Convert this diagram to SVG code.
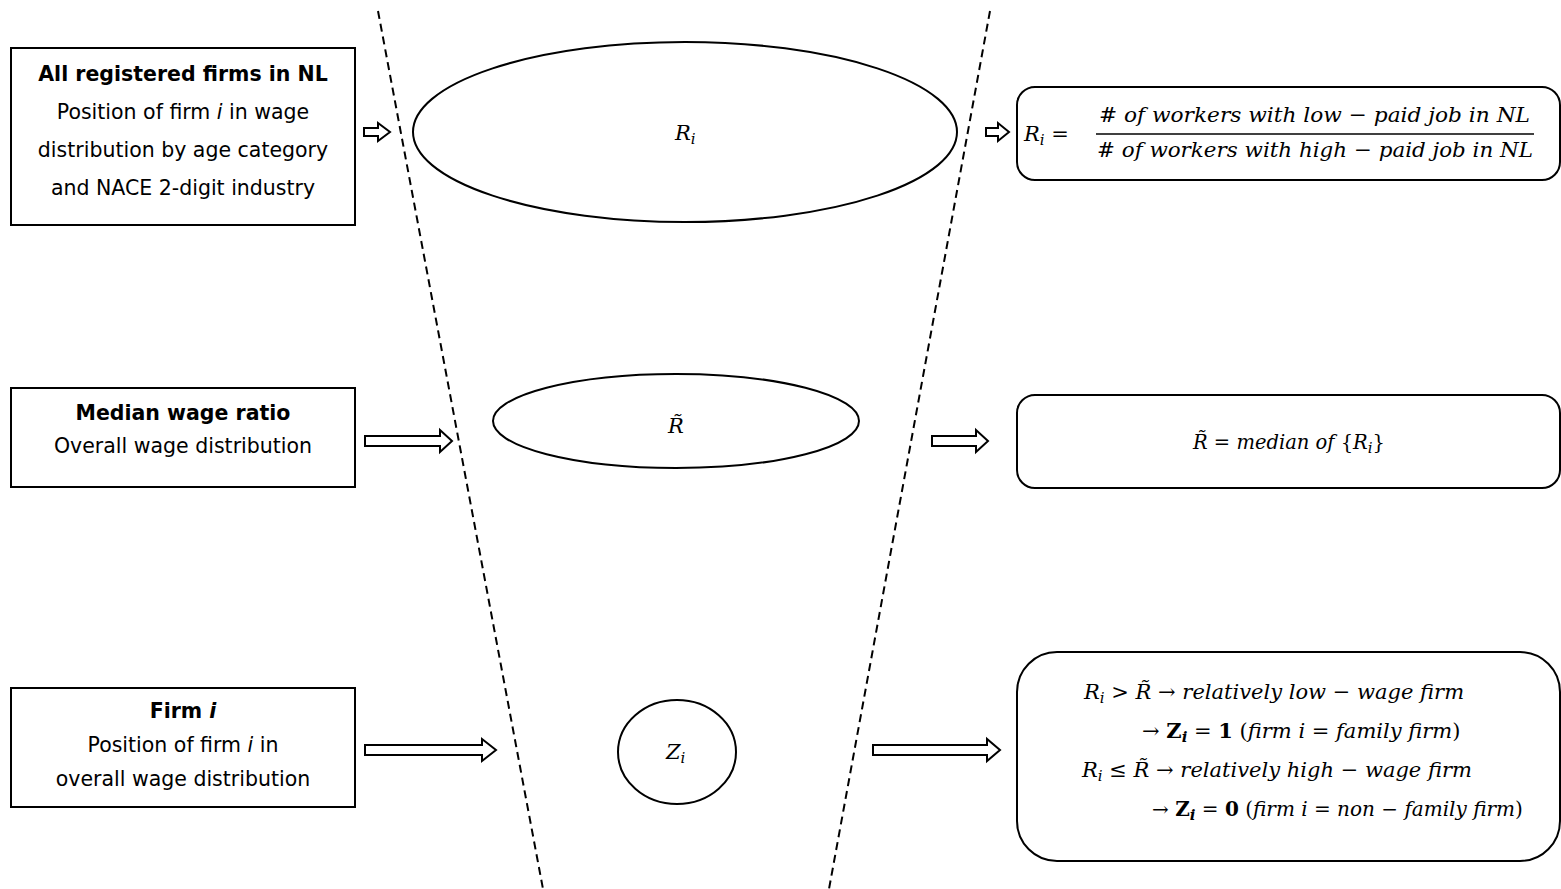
<svg xmlns="http://www.w3.org/2000/svg" width="1561" height="889" viewBox="0 0 1561 889">
<style>
.box{fill:#fff;stroke:#000;stroke-width:2}
.rbox{fill:#fff;stroke:#000;stroke-width:2}
.ell{fill:#fff;stroke:#000;stroke-width:2}
.dash{stroke:#000;stroke-width:2;stroke-dasharray:8 5;fill:none}
.arr{fill:#fff;stroke:#000;stroke-width:2;stroke-linejoin:miter}
.t{font-family:"DejaVu Sans",Verdana,sans-serif;font-size:20.5px;fill:#000;text-anchor:middle}
.b{font-weight:bold}
.m{font-family:"DejaVu Serif","Liberation Serif",serif;font-style:italic;font-size:21px;fill:#000}
.u{font-style:normal}
.s{font-size:15px}
</style>
<rect width="1561" height="889" fill="#fff"/>
<g id="connectors">
<line class="dash" x1="378" y1="11" x2="543" y2="889"/>
<line class="dash" x1="990" y1="11" x2="829" y2="889"/>
<path class="arr" d="M364,128 H378 V123 L390,132 L378,141 V136 H364 Z"/>
<path class="arr" d="M986,128 H998 V123 L1009,132 L998,141 V136 H986 Z"/>
<path class="arr" d="M365,436 H440 V430 L452,441 L440,452 V446 H365 Z"/>
<path class="arr" d="M932,436 H976 V430 L988,441 L976,452 V446 H932 Z"/>
<path class="arr" d="M365,745 H482 V739 L496,750 L482,761 V755 H365 Z"/>
<path class="arr" d="M873,745 H987 V739 L1000,750 L987,761 V755 H873 Z"/>
</g>
<g id="box-all-firms">
<rect class="box" x="11" y="48" width="344" height="177"/>
<text class="t b" x="183" y="81">All registered firms in NL</text>
<text class="t" x="183" y="119">Position of firm <tspan font-style="italic">i</tspan> in wage</text>
<text class="t" x="183" y="157">distribution by age category</text>
<text class="t" x="183" y="195">and NACE 2-digit industry</text>
</g>
<g id="box-median">
<rect class="box" x="11" y="388" width="344" height="99"/>
<text class="t b" x="183" y="420">Median wage ratio</text>
<text class="t" x="183" y="453">Overall wage distribution</text>
</g>
<g id="box-firm">
<rect class="box" x="11" y="688" width="344" height="119"/>
<text class="t b" x="183" y="718">Firm <tspan font-style="italic">i</tspan></text>
<text class="t" x="183" y="752">Position of firm <tspan font-style="italic">i</tspan> in</text>
<text class="t" x="183" y="786">overall wage distribution</text>
</g>
<g id="ellipse-Ri">
<ellipse class="ell" cx="685" cy="132" rx="272" ry="90"/>
<text class="m" x="675" y="140">R<tspan class="s" dy="4">i</tspan></text>
</g>
<g id="ellipse-Rtilde">
<ellipse class="ell" cx="676" cy="421" rx="183" ry="47"/>
<text class="m" x="668" y="433">R&#771;</text>
</g>
<g id="circle-Zi">
<ellipse class="ell" cx="677" cy="752" rx="59" ry="52"/>
<text class="m" x="666" y="759">Z<tspan class="s" dy="4">i</tspan></text>
</g>
<g id="box-Ri-def">
<rect class="rbox" x="1017" y="87" width="543" height="93" rx="18"/>
<text class="m" x="1024" y="141">R<tspan class="s" dy="4">i</tspan><tspan class="u" dy="-4"> =</tspan></text>
<text class="m" x="1099" y="122" textLength="431" lengthAdjust="spacingAndGlyphs"># of workers with low <tspan class="u">−</tspan> paid job in NL</text>
<line x1="1096" y1="134" x2="1534" y2="134" stroke="#000" stroke-width="1.5"/>
<text class="m" x="1097" y="157" textLength="436" lengthAdjust="spacingAndGlyphs"># of workers with high <tspan class="u">−</tspan> paid job in NL</text>
</g>
<g id="box-Rtilde-def">
<rect class="rbox" x="1017" y="395" width="543" height="93" rx="18"/>
<text class="m" x="1289" y="449" text-anchor="middle" style="font-size:19.5px">R&#771; <tspan class="u">=</tspan> median of <tspan class="u">{</tspan>R<tspan class="s" dy="4">i</tspan><tspan class="u" dy="-4">}</tspan></text>
</g>
<g id="box-Zi-def">
<rect class="rbox" x="1017" y="652" width="543" height="209" rx="40"/>
<text class="m" x="1084" y="699">R<tspan class="s" dy="4">i</tspan><tspan class="u" dy="-4"> &gt; </tspan>R&#771;<tspan class="u"> → </tspan>relatively low <tspan class="u">−</tspan> wage firm</text>
<text class="m" x="1142" y="738"><tspan class="u">→ </tspan><tspan class="u" font-weight="bold">Z</tspan><tspan class="s" font-weight="bold" dy="4">i</tspan><tspan class="u" dy="-4"> = </tspan><tspan class="u" font-weight="bold">1</tspan><tspan class="u"> (</tspan>firm i <tspan class="u">=</tspan> family firm<tspan class="u">)</tspan></text>
<text class="m" x="1082" y="777">R<tspan class="s" dy="4">i</tspan><tspan class="u" dy="-4"> ≤ </tspan>R&#771;<tspan class="u"> → </tspan>relatively high <tspan class="u">−</tspan> wage firm</text>
<text class="m" x="1152" y="816" style="font-size:20px"><tspan class="u">→ </tspan><tspan class="u" font-weight="bold">Z</tspan><tspan class="s" font-weight="bold" dy="4">i</tspan><tspan class="u" dy="-4"> = </tspan><tspan class="u" font-weight="bold">0</tspan><tspan class="u"> (</tspan>firm i <tspan class="u">=</tspan> non <tspan class="u">−</tspan> family firm<tspan class="u">)</tspan></text>
</g>
</svg>
